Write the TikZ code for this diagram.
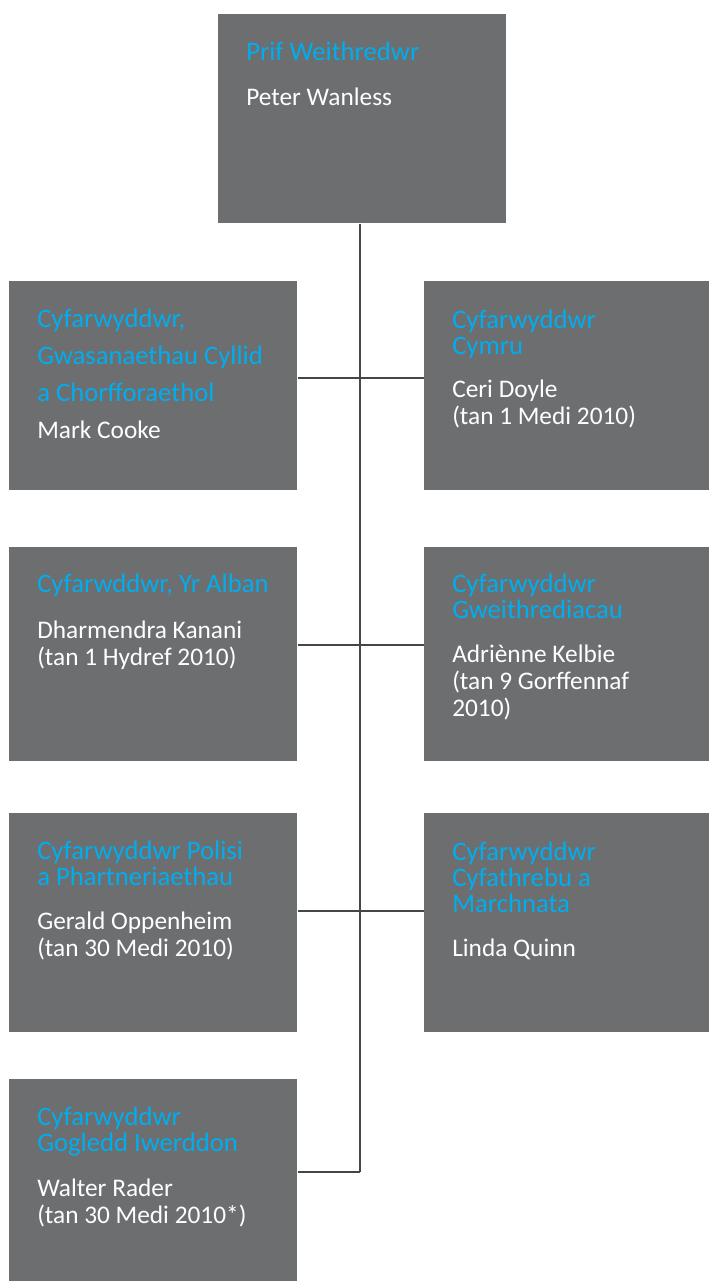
\documentclass[tikz,border=0pt]{standalone}
\usepackage{fontspec}
\setmainfont{Carlito}
\usetikzlibrary{positioning}
\definecolor{boxgrey}{HTML}{6D6E70}
\definecolor{titleblue}{HTML}{00AEEF}
\definecolor{linegrey}{HTML}{464646}

\begin{document}
\begin{tikzpicture}[x=0.75pt,y=-0.75pt,
  orgbox/.style={fill=boxgrey,anchor=north west,inner sep=0pt,minimum width=216pt},
  roletext/.style={titleblue,anchor=base west,inner sep=0pt,align=left,font=\fontsize{20}{19.5}\selectfont},
  nametext/.style={white,anchor=base west,inner sep=0pt,align=left,font=\fontsize{19}{20.25}\selectfont},
  branch/.style={linegrey,line width=1.1pt}]
\useasboundingbox (0,0) rectangle (709,1281);
% boxes
\node[orgbox,minimum height=156.75pt] (ceo) at (218,14) {};
\node[orgbox,minimum height=156.75pt] (cyllid) at (9,281) {};
\node[orgbox,minimum height=156.75pt,minimum width=213.75pt] (cymru) at (424,281) {};
\node[orgbox,minimum height=160.5pt] (alban) at (9,547) {};
\node[orgbox,minimum height=160.5pt,minimum width=213.75pt] (gweith) at (424,547) {};
\node[orgbox,minimum height=164.25pt] (polisi) at (9,813) {};
\node[orgbox,minimum height=164.25pt,minimum width=213.75pt] (cyfath) at (424,813) {};
\node[orgbox,minimum height=151.5pt] (iwerddon) at (9,1079) {};
% texts (placed at the baseline of their last line)
\node[roletext] (ceoT) at (246,61) {Prif Weithredwr};
\node[nametext] (ceoN) at (246,105) {Peter Wanless};
\node[roletext,font=\fontsize{20}{27.75}\selectfont] (cyllidT) at (37,401) {Cyfarwyddwr,\\Gwasanaethau Cyllid\\a Chorfforaethol};
\node[nametext] (cyllidN) at (37,438) {Mark Cooke};
\node[roletext] (cymruT) at (452,354) {Cyfarwyddwr\\Cymru};
\node[nametext] (cymruN) at (452,424) {Ceri Doyle\\(tan 1 Medi 2010)};
\node[roletext] (albanT) at (37,592) {Cyfarwddwr, Yr Alban};
\node[nametext] (albanN) at (37,665) {Dharmendra Kanani\\(tan 1 Hydref 2010)};
\node[roletext] (gweithT) at (452,618) {Cyfarwyddwr\\Gweithrediacau};
\node[nametext] (gweithN) at (452,716) {Adriènne Kelbie\\(tan 9 Gorffennaf\\2010)};
\node[roletext] (polisiT) at (37,885) {Cyfarwyddwr Polisi\\a Phartneriaethau};
\node[nametext] (polisiN) at (37,956) {Gerald Oppenheim\\(tan 30 Medi 2010)};
\node[roletext] (cyfathT) at (452,912) {Cyfarwyddwr\\Cyfathrebu a\\Marchnata};
\node[nametext] (cyfathN) at (452,956) {Linda Quinn};
\node[roletext] (iwerddonT) at (37,1151) {Cyfarwyddwr\\Gogledd Iwerddon};
\node[nametext] (iwerddonN) at (37,1223) {Walter Rader\\(tan 30 Medi 2010*)};
% connectors
\coordinate (j1) at (360,378);
\coordinate (j2) at (360,645);
\coordinate (j3) at (360,911);
\coordinate (j4) at (360,1172);
\draw[branch] (ceo.south -| j1) -- (j4);
\foreach \l/\r/\j in {cyllid/cymru/j1,alban/gweith/j2,polisi/cyfath/j3}
  \draw[branch] (\l.east |- \j) -- (\r.west |- \j);
\draw[branch] (iwerddon.east |- j4) -- (j4);
\end{tikzpicture}
\end{document}
